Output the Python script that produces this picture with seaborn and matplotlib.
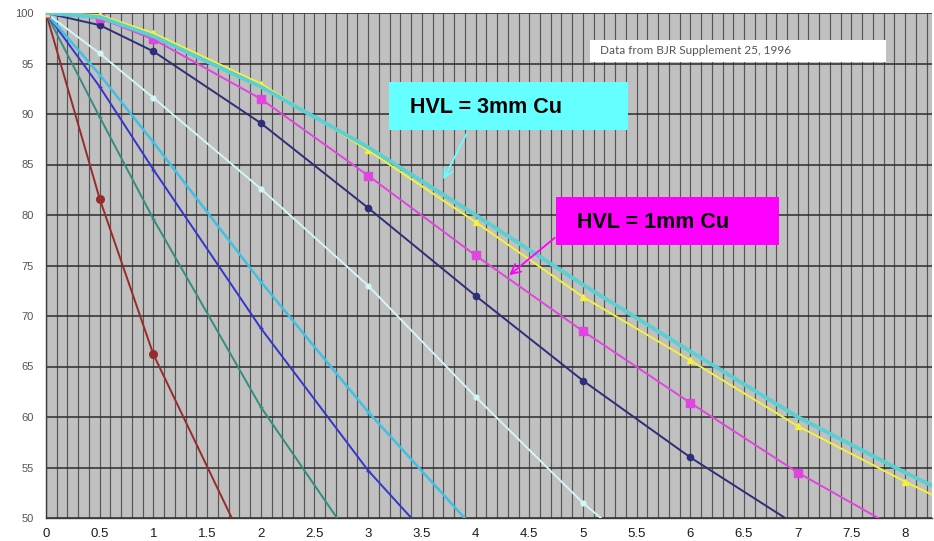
import numpy as np
import pandas as pd
import matplotlib.pyplot as plt
import seaborn as sns
from matplotlib.patches import Rectangle
from matplotlib.ticker import MultipleLocator

# depth (cm) and relative dose (%)
depth = [0, 0.5, 1, 2, 3, 4, 5, 6, 7, 8, 9]

dark_red = [100, 81.6, 66.2, 44.0, 29.5, 19.8, 13.3, 8.9, 6.0, 4.0, 2.7]
teal = [100, 89.7, 79.6, 61.0, 45.5, 34.5, 26.0, 19.6, 14.8, 11.2, 8.5]
blue = [100, 92.7, 84.5, 68.8, 54.7, 43.0, 33.8, 26.6, 20.9, 16.4, 12.9]
sky = [100, 93.9, 87.2, 73.4, 60.5, 48.8, 39.4, 31.8, 25.7, 20.7, 16.7]
pale = [100, 96.0, 91.6, 82.6, 73.0, 62.0, 51.5, 42.5, 35.0, 28.8, 23.7]
navy = [100, 98.8, 96.2, 89.1, 80.7, 72.0, 63.6, 56.0, 49.2, 43.2, 37.9]
magenta = [100, 99.5, 97.4, 91.5, 83.9, 76.0, 68.5, 61.4, 54.5, 48.5, 43.0]
yellow = [100, 99.8, 98.0, 93.0, 86.4, 79.3, 71.9, 65.6, 59.1, 53.6, 48.4]
turquoise = [100, 99.6, 97.7, 92.7, 86.7, 80.0, 73.1, 66.5, 60.0, 54.5, 49.3]

xtick_values = [0, 0.5, 1, 1.5, 2, 2.5, 3, 3.5, 4, 4.5, 5, 5.5, 6, 6.5, 7, 7.5, 8]
xtick_labels = ["0", "0.5", "1", "1.5", "2", "2.5", "3", "3.5", "4", "4.5",
                "5", "5.5", "6", "6.5", "7", "7.5", "8"]
ytick_values = [50, 55, 60, 65, 70, 75, 80, 85, 90, 95, 100]

series = [
    (dark_red, "#972B2B", "o", 5.5, 1.4),
    (teal, "#358C80", "+", 3, 1.4),
    (blue, "#3535CC", "+", 3, 1.4),
    (sky, "#3FC0E2", "x", 3.5, 1.8),
    (pale, "#D2F6F6", "o", 3.5, 1.4),
    (navy, "#2E2E78", "o", 4.5, 1.4),
    (magenta, "#E045E0", "s", 6, 1.4),
    (yellow, "#F5F23C", "^", 5, 1.4),
    (turquoise, "#5CCFD2", None, 0, 2.8),
]

sns.set_style("white")
plt.rcParams["font.family"] = ["Liberation Sans", "DejaVu Sans"]

fig = plt.figure(figsize=(9.34, 5.41), dpi=100)
ax = fig.add_axes([46 / 934, 1 - 518 / 541, (932 - 46) / 934, (518 - 13) / 541])
ax.set_facecolor("#C0C0C0")

for vals, color, marker, ms, lw in series:
    kw = dict(color=color, lw=lw, zorder=3)
    if marker:
        kw.update(marker=marker, markersize=ms, markeredgecolor=color,
                  markerfacecolor=color, markeredgewidth=1)
    sns.lineplot(x=depth, y=vals, ax=ax, **kw)

ax.set_xlim(0, 8.25)
ax.set_ylim(50, 100)
ax.set_xticks(xtick_values)
ax.set_xticklabels(xtick_labels)
ax.set_yticks(ytick_values)
ax.xaxis.set_minor_locator(MultipleLocator(0.1))
ax.set_axisbelow(True)
ax.grid(which="both", axis="x", color="#555555", lw=0.85, zorder=0)
ax.grid(which="major", axis="y", color="#2c2c2c", lw=1.1, zorder=0)
ax.tick_params(axis="both", which="both", length=0)
ax.tick_params(axis="y", labelsize=8, labelcolor="#555555", pad=9)
ax.tick_params(axis="x", labelsize=9.5, labelcolor="#1a1a1a", pad=7)
for s in ["top", "right"]:
    ax.spines[s].set_visible(False)
for s in ["left", "bottom"]:
    ax.spines[s].set_color("#3a3a3a")
    ax.spines[s].set_linewidth(1.0)
ax.set_xlabel("")
ax.set_ylabel("")


def fig_box(x0, y0, x1, y1, color):
    # box given in image pixels (origin top-left)
    fig.add_artist(Rectangle((x0 / 934, 1 - y1 / 541), (x1 - x0) / 934, (y1 - y0) / 541,
                             transform=fig.transFigure, facecolor=color,
                             edgecolor="none", zorder=5))


fig_box(590, 40, 886, 62, "white")
fig.text(600 / 934, 1 - 51 / 541, "Data from BJR Supplement 25, 1996", fontsize=8.5,
         color="#555555", va="center", ha="left", family=["Lato", "DejaVu Sans"], zorder=6)

fig_box(389, 82, 628, 130, "#66FFFF")
fig.text(410 / 934, 1 - 107 / 541, "HVL = 3mm Cu", fontsize=15.5, fontweight="bold",
         color="black", va="center", ha="left", zorder=6)

fig_box(556, 197, 779, 245, "#FF00FF")
fig.text(577 / 934, 1 - 222 / 541, "HVL = 1mm Cu", fontsize=15.5, fontweight="bold",
         color="black", va="center", ha="left", zorder=6)

ax.annotate("", xy=(442 / 934, 1 - 182 / 541), xycoords="figure fraction",
            xytext=(468 / 934, 1 - 131 / 541), textcoords="figure fraction",
            arrowprops=dict(arrowstyle="->,head_length=0.7,head_width=0.35",
                            color="#66FFFF", lw=1.3), zorder=6)
ax.annotate("", xy=(507 / 934, 1 - 277 / 541), xycoords="figure fraction",
            xytext=(557 / 934, 1 - 236 / 541), textcoords="figure fraction",
            arrowprops=dict(arrowstyle="->,head_length=0.7,head_width=0.35",
                            color="#FF00FF", lw=1.3), zorder=6)

fig.savefig("out.png", dpi=100)
